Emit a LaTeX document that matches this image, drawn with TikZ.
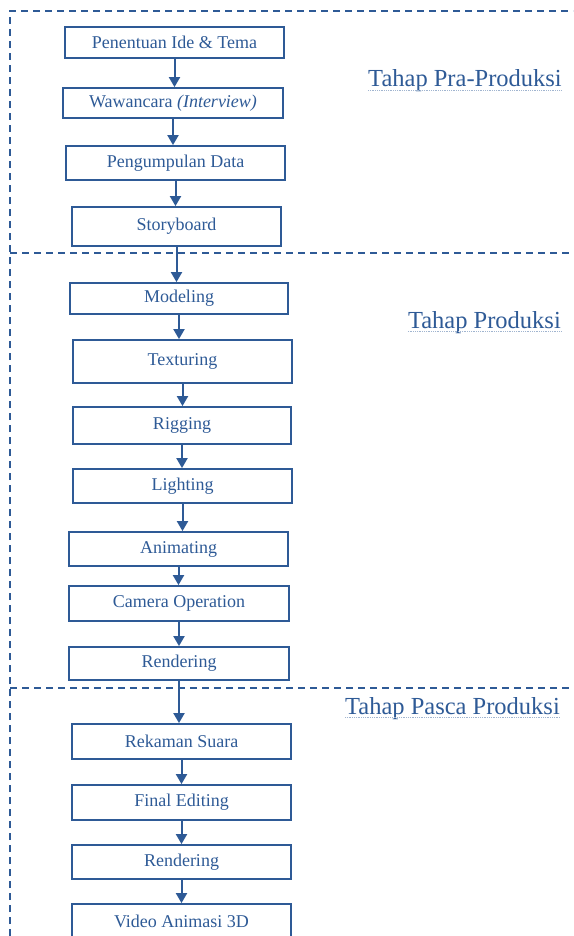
\documentclass[tikz,border=0pt]{standalone}
\usepackage{fontspec}
\setmainfont{Liberation Serif}
\usetikzlibrary{arrows.meta}
\definecolor{wordblue}{HTML}{2E5A96}

\begin{document}
\begin{tikzpicture}[x=1pt,y=-1pt,
  box/.style={draw=wordblue, line width=1.8pt, text=wordblue, inner sep=0pt,
    font=\fontsize{18}{21}\selectfont, minimum width=219pt},
  flow/.style={draw=wordblue, line width=2pt, -{Triangle[width=11pt,length=10pt]}},
  phase/.style={draw=wordblue, line width=1.3pt, dash pattern=on 7pt off 5pt},
  stage/.style={text=wordblue, inner sep=0pt, anchor=base east,
    font=\fontsize{24.5}{28}\selectfont},
  underl/.style={draw=wordblue!45, line width=0.8pt, densely dotted}]
\useasboundingbox (0,0) rectangle (573,936);

% Phase borders
\draw[phase] (10,936) -- (10,11) -- (573,11);
\draw[phase] (10,253) -- (573,253);
\draw[phase] (10,688) -- (573,688);

% Phase labels
\node[stage] (pra) at (562,87) {Tahap Pra-Produksi};
\node[stage] (prod) at (561,328) {Tahap Produksi};
\node[stage] (pasca) at (560,714) {Tahap Pasca Produksi};
\foreach \s in {pra,prod,pasca}
  \draw[underl] ([yshift=-3pt]\s.base west) -- ([yshift=-3pt]\s.base east);

% Pra-produksi
\node[box, minimum height=31pt] (ide) at (174.5,42.5) {Penentuan Ide \& Tema};
\node[box, minimum width=220pt, minimum height=30pt] (wwc) at (173,103) {Wawancara \textit{(Interview)}};
\node[box, minimum height=34pt] (data) at (175.5,163) {Pengumpulan Data};
\node[box, minimum width=209pt, minimum height=39pt] (story) at (176.5,226.5) {Storyboard};

% Produksi
\node[box, minimum width=218pt, minimum height=31pt] (model) at (179,298.5) {Modeling};
\node[box, minimum height=43pt] (tex) at (182.5,361.5) {Texturing};
\node[box, minimum width=218pt, minimum height=37pt] (rig) at (182,425.5) {Rigging};
\node[box, minimum height=34pt] (light) at (182.5,486) {Lighting};
\node[box, minimum height=34pt] (anim) at (178.5,549) {Animating};
\node[box, minimum width=220pt, minimum height=35pt] (cam) at (179,603.5) {Camera Operation};
\node[box, minimum width=220pt, minimum height=33pt] (rend) at (179,663.5) {Rendering};

% Pasca produksi
\node[box, minimum height=35pt] (suara) at (181.5,741.5) {Rekaman Suara};
\node[box, minimum height=35pt] (edit) at (181.5,802.5) {Final Editing};
\node[box, minimum height=34pt] (final) at (181.5,862) {Rendering};
\node[box, minimum height=34pt] (video) at (181.5,921) {Video Animasi 3D};

% Arrows
\foreach \a/\b in {ide/wwc, wwc/data, data/story, story/model, model/tex, tex/rig,
  rig/light, light/anim, anim/cam, cam/rend, rend/suara, suara/edit, edit/final, final/video}
  \draw[flow] (\a.south) -- (\a.south |- \b.north);

\end{tikzpicture}
\end{document}
